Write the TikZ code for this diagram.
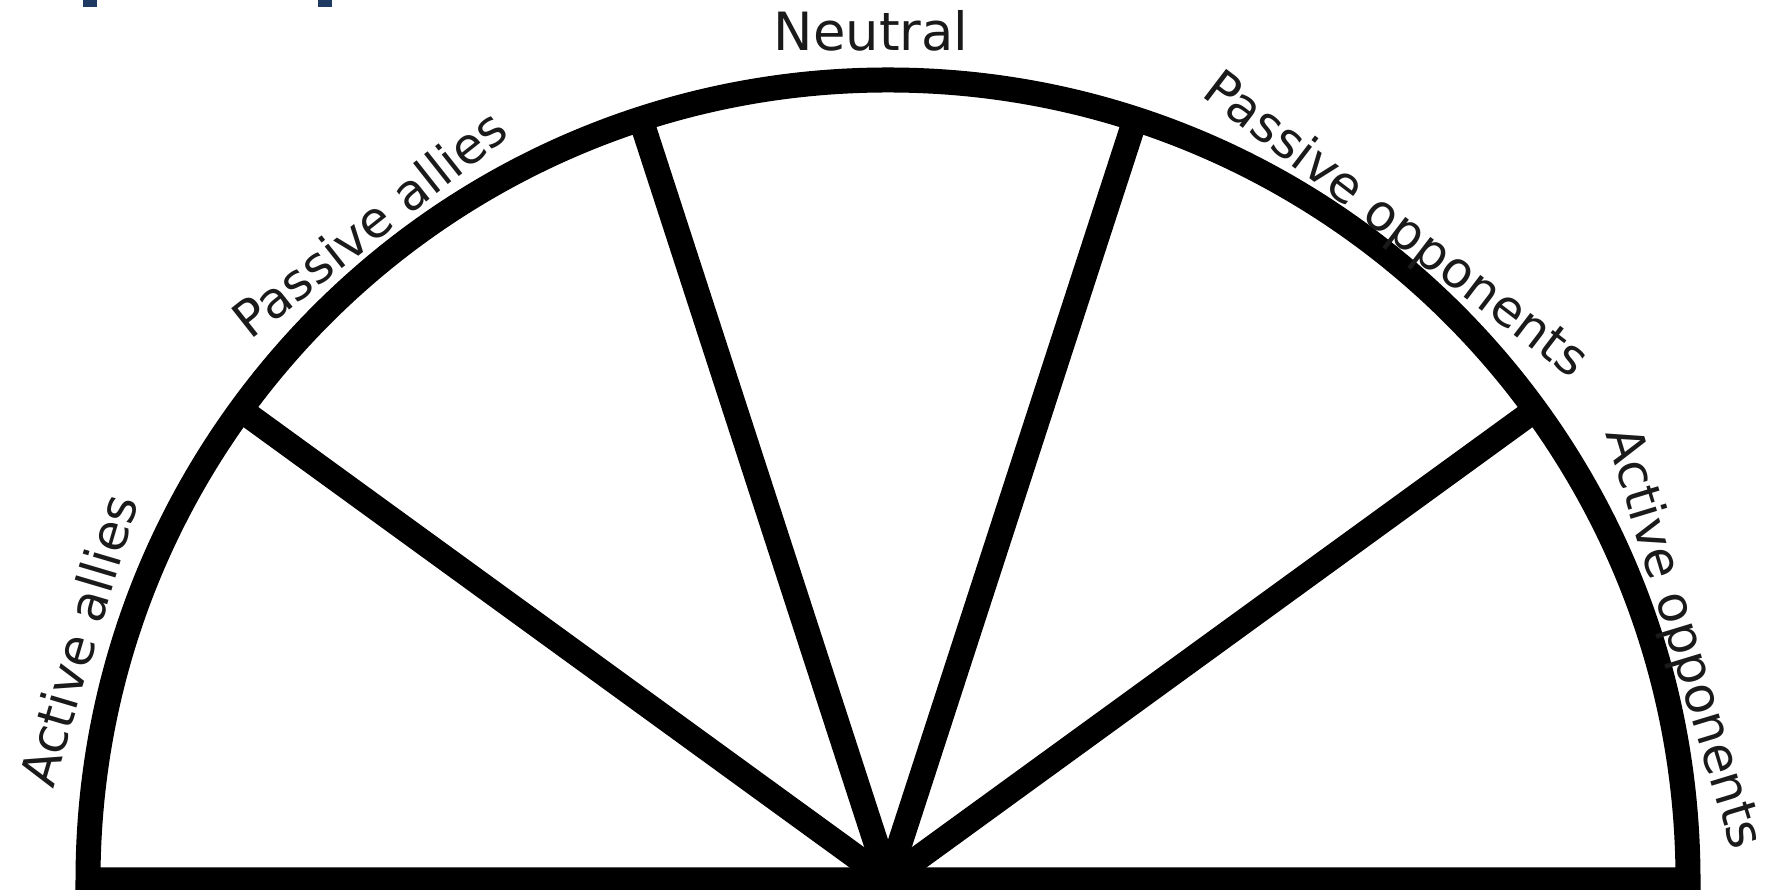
\documentclass[tikz,border=0pt]{standalone}
\usepackage{fontspec}
\setmainfont{DejaVu Sans}
\definecolor{navy}{HTML}{1F3A62}
\definecolor{ink}{HTML}{1A1A1A}
\begin{document}
\begin{tikzpicture}[
  frame/.style={line width=0.25cm, line join=miter, black},
  spoke/.style={line width=0.25cm, black},
  lbl/.style={font=\fontsize{14.3pt}{17pt}\selectfont, text=ink, inner sep=0pt}
]
\useasboundingbox (0,0) rectangle (17.81,8.90);
\coordinate (C) at (8.88,0.10);
% outline: semicircle and base
\draw[frame] ([shift={(0:8)}]C) arc (0:180:8) -- cycle;
% spoke end points
\coordinate (s1) at ([shift={(36:8)}]C);
\coordinate (s2) at ([shift={(72:8)}]C);
\coordinate (s3) at ([shift={(108:8)}]C);
\coordinate (s4) at ([shift={(144:8)}]C);
\draw[spoke] (C) -- (s1);
\draw[spoke] (C) -- (s2);
\draw[spoke] (C) -- (s3);
\draw[spoke] (C) -- (s4);
% labels
\node[lbl, rotate=73.5] (aa) at ([shift={(163.5:8.45)}]C) {Active allies};
\node[lbl, rotate=38.3] (pa) at ([shift={(128.3:8.37)}]C) {Passive allies};
\node[lbl, font=\fontsize{15pt}{18pt}\selectfont] (nt) at (8.71,8.59) {Neutral};
\node[lbl, rotate=-37.3] (po) at ([shift={(52.2:8.27)}]C) {Passive opponents};
\node[lbl, rotate=-73.1] (ao) at ([shift={(16.9:8.30)}]C) {Active opponents};
% cut-off blue brackets at the top edge
\fill[navy] (0.83,8.83) rectangle (0.97,8.90);
\fill[navy] (3.18,8.83) rectangle (3.32,8.90);
\end{tikzpicture}
\end{document}
